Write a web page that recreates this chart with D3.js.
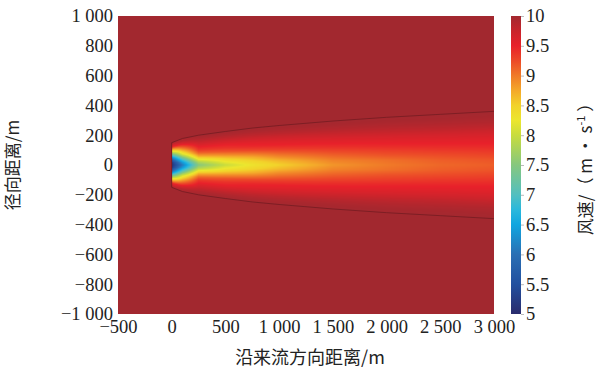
<!DOCTYPE html>
<html>
<head>
<meta charset="utf-8">
<script src="https://cdn.jsdelivr.net/npm/d3@7"></script>
<style>
  body { margin: 0; background: #fff; }
</style>
</head>
<body>
<svg width="612" height="375"></svg>
<script>
const xStations = [0, 100, 250, 500, 750, 1000, 1500, 2000, 2500, 3000];
// wake half width (m) at each station
const wakeRadius = [150, 178, 200, 225, 248, 265, 295, 320, 340, 360];
// radial position as a fraction of the wake half width
const rNorm = [0, 0.1, 0.2, 0.3, 0.4, 0.5, 0.6, 0.7, 0.8, 0.9, 1];
// wind speed (m/s) across the wake, one row per station
const speedProfiles = [
    [5.1, 5.2, 5.6, 6.1, 6.8, 7.5, 8.2, 8.8, 9.4, 9.7, 9.95],
    [6.1, 6.4, 6.9, 7.5, 8.1, 8.5, 8.9, 9.25, 9.6, 9.85, 9.97],
    [7.5, 7.8, 8.3, 8.75, 9.1, 9.35, 9.5, 9.65, 9.8, 9.92, 9.99],
    [8.0, 8.25, 8.55, 8.9, 9.2, 9.38, 9.5, 9.65, 9.8, 9.92, 9.99],
    [8.3, 8.45, 8.7, 9.0, 9.28, 9.45, 9.55, 9.68, 9.82, 9.93, 9.99],
    [8.5, 8.65, 8.9, 9.12, 9.33, 9.48, 9.58, 9.7, 9.84, 9.94, 9.99],
    [8.85, 8.95, 9.1, 9.25, 9.4, 9.52, 9.62, 9.75, 9.87, 9.95, 9.99],
    [9.0, 9.05, 9.2, 9.32, 9.45, 9.55, 9.65, 9.78, 9.88, 9.95, 9.99],
    [9.1, 9.15, 9.25, 9.37, 9.48, 9.57, 9.67, 9.8, 9.89, 9.96, 9.99],
    [9.15, 9.2, 9.3, 9.4, 9.5, 9.58, 9.68, 9.8, 9.9, 9.96, 9.99]
];
const freeStream = 10;

const colorValues = [5, 5.5, 6, 6.5, 6.75, 7, 7.5, 8, 8.25, 8.5, 8.75, 9, 9.25, 9.5, 9.75, 10];
const colorHex = ['#2a2b6c', '#22509f', '#2a6fb4', '#10a6e0', '#2ab8dc', '#52bfc0', '#86c77e', '#c8dc3e',
    '#ece62e', '#f2d22a', '#f4a82a', '#f07a28', '#ec4a28', '#e8212a', '#c8242b', '#a2282f'];

const xTickValues = [-500, 0, 500, 1000, 1500, 2000, 2500, 3000];
const xTickLabels = ['\u2212500', '0', '500', '1 000', '1 500', '2 000', '2 500', '3 000'];
const yTickValues = [-1000, -800, -600, -400, -200, 0, 200, 400, 600, 800, 1000];
const yTickLabels = ['\u22121 000', '\u2212800', '\u2212600', '\u2212400', '\u2212200', '0', '200', '400', '600', '800', '1 000'];
const cbTickValues = [5, 5.5, 6, 6.5, 7, 7.5, 8, 8.5, 9, 9.5, 10];
const cbTickLabels = ['5', '5.5', '6', '6.5', '7', '7.5', '8', '8.5', '9', '9.5', '10'];

const serif = 'Liberation Serif';
const cjk = 'Noto Sans CJK SC';

const svg = d3.select('svg');
const width = +svg.attr('width');
const height = +svg.attr('height');

const margin = { top: 16, right: 118, bottom: 61, left: 118 };
const innerWidth = width - margin.left - margin.right;
const innerHeight = height - margin.top - margin.bottom;

const xScale = d3.scaleLinear().domain([-500, 3000]).range([0, innerWidth]);
const yScale = d3.scaleLinear().domain([-1000, 1000]).range([innerHeight, 0]);
const colorScale = d3.scaleLinear().domain(colorValues).range(colorHex)
    .interpolate(d3.interpolateRgb).clamp(true);
const radiusScale = d3.scaleLinear().domain(xStations).range(wakeRadius).clamp(true);
// one scale per radial column, along x
const columnScales = rNorm.map((r, j) =>
    d3.scaleLinear().domain(xStations).range(speedProfiles.map(p => p[j])).clamp(true));

// raster of the speed field
const canvas = document.createElement('canvas');
canvas.width = innerWidth;
canvas.height = innerHeight;
const ctx = canvas.getContext('2d');
const img = ctx.createImageData(innerWidth, innerHeight);
for (let px = 0; px < innerWidth; px++) {
    const x = xScale.invert(px + 0.5);
    const R = radiusScale(x);
    const rowScale = d3.scaleLinear().domain(rNorm)
        .range(columnScales.map(s => s(x))).clamp(true);
    for (let py = 0; py < innerHeight; py++) {
        const y = yScale.invert(py + 0.5);
        const rn = Math.abs(y) / R;
        const v = (x < 0 || rn > 1) ? freeStream : rowScale(rn);
        const c = d3.rgb(colorScale(v));
        const k = (py * innerWidth + px) * 4;
        img.data[k] = c.r;
        img.data[k + 1] = c.g;
        img.data[k + 2] = c.b;
        img.data[k + 3] = 255;
    }
}
ctx.putImageData(img, 0, 0);

const g = svg.append('g')
    .attr('transform', `translate(${margin.left}, ${margin.top})`);

g.append('image')
    .attr('width', innerWidth)
    .attr('height', innerHeight)
    .attr('preserveAspectRatio', 'none')
    .attr('href', canvas.toDataURL());

// wake boundary line
const edgePoints = xStations.map((x, i) => [x, -wakeRadius[i]]).reverse()
    .concat(xStations.map((x, i) => [x, wakeRadius[i]]));
const edgeLine = d3.line().x(d => xScale(d[0])).y(d => yScale(d[1]));
g.append('path')
    .attr('d', edgeLine(edgePoints))
    .attr('fill', 'none')
    .attr('stroke', '#6e1a20')
    .attr('stroke-opacity', 0.7)
    .attr('stroke-width', 1);

const xAxis = d3.axisBottom(xScale)
    .tickValues(xTickValues)
    .tickFormat((d, i) => xTickLabels[i])
    .tickSize(0)
    .tickPadding(6);
const xAxisG = g.append('g').call(xAxis)
    .attr('transform', `translate(0, ${innerHeight})`);
xAxisG.select('.domain').remove();

const yAxis = d3.axisLeft(yScale)
    .tickValues(yTickValues)
    .tickFormat((d, i) => yTickLabels[i])
    .tickSize(0)
    .tickPadding(5);
const yAxisG = g.append('g').call(yAxis);
yAxisG.select('.domain').remove();

// axis titles
g.append('text')
    .attr('class', 'title')
    .attr('text-anchor', 'middle')
    .attr('x', innerWidth / 2 + 4)
    .attr('y', innerHeight + 50)
    .attr('font-size', 18)
    .text('沿来流方向距离/m');

g.append('text')
    .attr('class', 'title')
    .attr('text-anchor', 'middle')
    .attr('transform', `translate(${-99}, ${innerHeight / 2}) rotate(-90)`)
    .attr('font-size', 17)
    .text('径向距离/m');

// colour bar
const cbX = 511;
const cbW = 10;
const cbScale = d3.scaleLinear().domain([5, 10]).range([margin.top + innerHeight, margin.top]);
const grad = svg.append('defs').append('linearGradient')
    .attr('id', 'cb')
    .attr('x1', 0).attr('y1', 1).attr('x2', 0).attr('y2', 0);
grad.selectAll('stop').data(colorValues).enter().append('stop')
    .attr('offset', d => (d - 5) / 5)
    .attr('stop-color', (d, i) => colorHex[i]);
svg.append('rect')
    .attr('x', cbX)
    .attr('y', cbScale(10))
    .attr('width', cbW)
    .attr('height', cbScale(5) - cbScale(10))
    .attr('fill', 'url(#cb)');

const cbAxis = d3.axisRight(cbScale)
    .tickValues(cbTickValues)
    .tickFormat((d, i) => cbTickLabels[i])
    .tickSize(3)
    .tickPadding(2);
const cbG = svg.append('g')
    .attr('transform', `translate(${cbX + cbW}, 0)`)
    .call(cbAxis);
cbG.select('.domain').remove();
cbG.selectAll('.tick line').attr('stroke', '#bbb');

const cbLabel = svg.append('text')
    .attr('class', 'title')
    .attr('text-anchor', 'middle')
    .attr('transform', `translate(592, ${margin.top + innerHeight / 2}) rotate(-90)`)
    .attr('font-size', 17);
cbLabel.append('tspan').text('风速/（ m · s');
cbLabel.append('tspan').attr('dy', -7).attr('font-size', 11).text('-1');
cbLabel.append('tspan').attr('dy', 7).text(' ）');

// d3 axes put font attributes on their groups
[xAxisG, yAxisG, cbG].forEach(a => a
    .attr('font-family', serif)
    .attr('font-size', 18.5));
svg.selectAll('.tick text').attr('fill', '#222');
svg.selectAll('text.title')
    .attr('font-family', cjk)
    .attr('fill', '#222');
</script>
</body>
</html>
